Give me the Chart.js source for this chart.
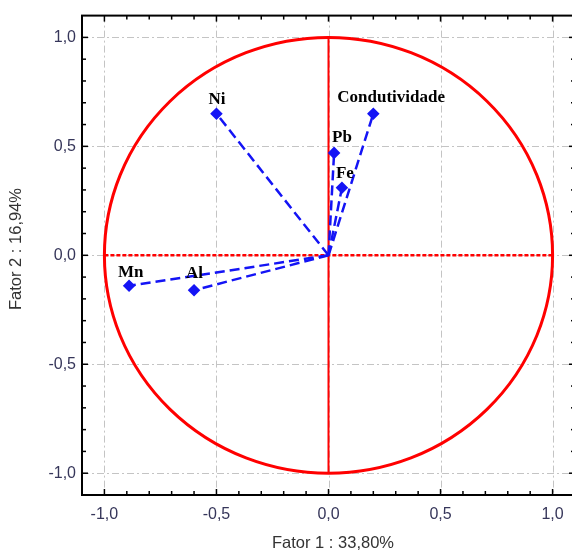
<!DOCTYPE html>
<html><head><meta charset="utf-8">
<script src="https://cdn.jsdelivr.net/npm/chart.js@4.4.1/dist/chart.umd.min.js"></script>
<style>html,body{margin:0;padding:0;background:#fff;overflow:hidden;width:572px;height:553px}#wrap{width:582px;height:553px}</style>
</head><body><div id="wrap"><canvas id="c" width="582" height="553"></canvas></div>
<script>
// Variables (loadings on Fator 1 / Fator 2)
const variables = ["Condutividade", "Pb", "Fe", "Ni", "Mn", "Al"];
const fator1 = [0.20, 0.025, 0.06, -0.50, -0.89, -0.60];
const fator2 = [0.65, 0.47, 0.31, 0.65, -0.14, -0.16];
const majorTicks = [-1.0, -0.5, 0.0, 0.5, 1.0];
const xTitle = "Fator 1 : 33,80%";
const yTitle = "Fator 2 : 16,94%";

// label placement (pixel offsets from marker), style only
const labelOffsets = {
  "Condutividade": [-36, -16],
  "Pb": [-2, -15],
  "Fe": [-6, -14],
  "Ni": [-8, -14],
  "Mn": [-11, -13],
  "Al": [-8, -17]
};

const BLUE = "#1414f5";
const datasets = variables.map((name, i) => ({
  label: name,
  data: [{x: 0, y: 0}, {x: fator1[i], y: fator2[i]}],
  showLine: true,
  borderColor: BLUE,
  backgroundColor: BLUE,
  borderWidth: 2.5,
  borderDash: [10, 5],
  pointStyle: 'rectRot',
  pointRadius: [0, 4.5],
  pointHoverRadius: [0, 4.5]
}));

const fmt = v => (Math.abs(v) < 1e-9 ? 0 : v).toFixed(1).replace('.', ',');

const decor = {
  id: 'decor',
  beforeDatasetsDraw(chart) {
    const {ctx, chartArea: a, scales: {x, y}} = chart;
    ctx.save();
    ctx.strokeStyle = '#c4c4c4';
    ctx.lineWidth = 1;
    ctx.setLineDash([7, 3, 2, 3]);
    majorTicks.forEach(v => {
      const px = Math.round(x.getPixelForValue(v)) + 0.5;
      ctx.beginPath(); ctx.moveTo(px, a.top); ctx.lineTo(px, a.bottom); ctx.stroke();
      const py = Math.round(y.getPixelForValue(v)) + 0.5;
      ctx.beginPath(); ctx.moveTo(a.left, py); ctx.lineTo(a.right, py); ctx.stroke();
    });
    ctx.setLineDash([]);
    const cx = x.getPixelForValue(0), cy = y.getPixelForValue(0);
    const rx = x.getPixelForValue(1) - cx, ry = cy - y.getPixelForValue(1);
    ctx.strokeStyle = '#ff0000';
    ctx.lineWidth = 3;
    ctx.beginPath(); ctx.ellipse(cx, cy, rx, ry, 0, 0, Math.PI * 2); ctx.stroke();
    ctx.lineWidth = 2;
    ctx.beginPath(); ctx.moveTo(cx, y.getPixelForValue(1)); ctx.lineTo(cx, y.getPixelForValue(-1)); ctx.stroke();
    ctx.lineWidth = 2.5;
    ctx.setLineDash([4, 2]);
    ctx.beginPath(); ctx.moveTo(x.getPixelForValue(-1), cy); ctx.lineTo(x.getPixelForValue(1), cy); ctx.stroke();
    ctx.setLineDash([]);
    ctx.restore();
  },
  afterDatasetsDraw(chart) {
    const {ctx, chartArea: a, scales: {x, y}} = chart;
    ctx.save();
    ctx.font = 'bold 17px "Liberation Serif", "Times New Roman", serif';
    ctx.fillStyle = '#000';
    ctx.textAlign = 'left';
    ctx.textBaseline = 'middle';
    variables.forEach((name, i) => {
      const off = labelOffsets[name];
      ctx.fillText(name, x.getPixelForValue(fator1[i]) + off[0], y.getPixelForValue(fator2[i]) + off[1]);
    });
    ctx.strokeStyle = '#000';
    ctx.lineWidth = 2;
    ctx.strokeRect(a.left, a.top, a.right - a.left, a.bottom - a.top);
    ctx.lineWidth = 1.5;
    for (let k = -10; k <= 10; k++) {
      const v = k / 10;
      const len = (k % 5 === 0) ? 6 : 4;
      const px = x.getPixelForValue(v);
      ctx.beginPath(); ctx.moveTo(px, a.top); ctx.lineTo(px, a.top + len); ctx.stroke();
      ctx.beginPath(); ctx.moveTo(px, a.bottom); ctx.lineTo(px, a.bottom - len); ctx.stroke();
      const py = y.getPixelForValue(v);
      ctx.beginPath(); ctx.moveTo(a.left, py); ctx.lineTo(a.left + len, py); ctx.stroke();
      ctx.beginPath(); ctx.moveTo(a.right, py); ctx.lineTo(a.right - len, py); ctx.stroke();
    }
    ctx.font = '16.5px "Liberation Sans", Arial, sans-serif';
    ctx.fillStyle = '#333';
    ctx.textAlign = 'center';
    ctx.textBaseline = 'middle';
    ctx.fillText(xTitle, 333, 543);
    ctx.translate(16, 249);
    ctx.rotate(-Math.PI / 2);
    ctx.fillText(yTitle, 0, 0);
    ctx.restore();
  }
};

const tickFont = {family: '"Liberation Sans", Arial, sans-serif', size: 16};
new Chart(document.getElementById('c'), {
  type: 'scatter',
  data: {datasets},
  options: {
    responsive: false,
    animation: false,
    layout: {padding: {left: 0, right: 2, top: 6, bottom: 0}},
    plugins: {legend: {display: false}, tooltip: {enabled: false}},
    scales: {
      x: {
        type: 'linear', min: -1.1, max: 1.1,
        grid: {display: false, drawTicks: false},
        border: {display: false},
        afterBuildTicks: s => { s.ticks = majorTicks.map(v => ({value: v})); },
        afterFit: s => { s.height = 58; },
        ticks: {padding: 10, color: '#36365a', font: tickFont, callback: v => fmt(v)}
      },
      y: {
        type: 'linear', min: -1.1, max: 1.1,
        grid: {display: false, drawTicks: false},
        border: {display: false},
        afterBuildTicks: s => { s.ticks = majorTicks.map(v => ({value: v})); },
        afterFit: s => { s.width = 82; },
        ticks: {padding: 6, color: '#36365a', font: tickFont, callback: v => fmt(v)}
      }
    }
  },
  plugins: [decor]
});
</script>
</body></html>
